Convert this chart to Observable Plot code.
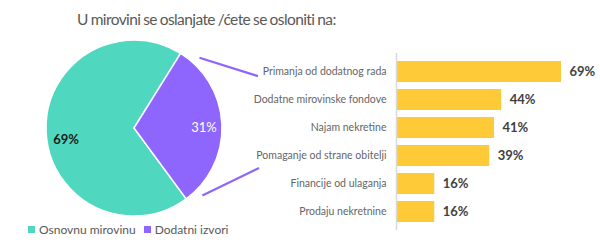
<!DOCTYPE html>
<html><head><meta charset="utf-8">
<script src="https://cdn.jsdelivr.net/npm/d3@7"></script>
<script src="https://cdn.jsdelivr.net/npm/@observablehq/plot@0.6"></script>
<style>
body{margin:0;background:#fff;font-family:Lato,sans-serif;}
#wrap{position:relative;width:600px;height:244px;overflow:hidden;}
#title{position:absolute;left:77px;top:10px;font-size:15.5px;letter-spacing:-0.6px;word-spacing:-0.5px;color:#595959;white-space:nowrap;}
#legend{position:absolute;left:28px;top:222px;font-size:12px;color:#595959;display:flex;gap:8px;white-space:nowrap;}
#legend span.sw{display:inline-block;width:7px;height:7px;margin-right:4px;vertical-align:1px;}
svg{position:absolute;left:0;top:0;}
</style></head>
<body>
<div id="wrap">
<div id="title">U mirovini se oslanjate /ćete se osloniti na:</div>
<div id="legend"></div>
</div>
<script>
const pieLabels = ["Osnovnu mirovinu", "Dodatni izvori"];
const pieValues = [69, 31];
const pieColors = ["#4fd8bf", "#8f66fd"];
const barCategories = ["Primanja od dodatnog rada", "Dodatne mirovinske fondove", "Najam nekretine", "Pomaganje od strane obitelji", "Financije od ulaganja", "Prodaju nekretnine"];
const barValues = [69, 44, 41, 39, 16, 16];
const barColor = "#ffca38";

const bars = barCategories.map((c, i) => ({cat: c, v: barValues[i]}));
const pieData = pieLabels.map((l, i) => ({label: l, v: pieValues[i], color: pieColors[i]}));

function pieMark(index, scales, values, dims) {
  const cx = 134, cy = 128, r = 88;
  const offset = (143.6 / 360) * 2 * Math.PI;
  const arcs = d3.pie().value(d => d.v).sort(null)
    .startAngle(offset).endAngle(offset + 2 * Math.PI)(pieData);
  const g = d3.create("svg:g").attr("transform", `translate(${cx},${cy})`);
  const arc = d3.arc().innerRadius(0).outerRadius(r);
  g.selectAll("path").data(arcs).join("path")
    .attr("d", arc).attr("fill", d => d.data.color)
    .attr("stroke", "#fff").attr("stroke-width", 1.5);
  const lab = [{dx: -68, dy: 11, fill: "#1a1a1a"}, {dx: 70, dy: -1, fill: "#fff"}];
  g.selectAll("text").data(arcs).join("text")
    .attr("x", (d, i) => lab[i].dx).attr("y", (d, i) => lab[i].dy)
    .attr("text-anchor", "middle").attr("dominant-baseline", "central")
    .attr("font-size", 13).attr("font-weight", (d, i) => i === 0 ? "bold" : "normal")
    .attr("fill", (d, i) => lab[i].fill)
    .text(d => d.data.v + "%");
  const purple = arcs[1];
  const a0 = purple.startAngle + 11 * Math.PI / 180 - 2 * Math.PI;
  const a1 = purple.endAngle - 9 * Math.PI / 180 - 2 * Math.PI;
  const rr = r + 8;
  const y = scales.y;
  const step = y(barCategories[1]) - y(barCategories[0]);
  const bw = step * 0.75;
  const yTop = y(barCategories[0]) + bw * 0.72;
  const yBot = y(barCategories[3]) + bw * 1.1;
  const lines = [
    [rr * Math.sin(a0), -rr * Math.cos(a0), 258 - cx, yTop - cy],
    [rr * Math.sin(a1), -rr * Math.cos(a1), 259 - cx, yBot - cy]
  ];
  g.selectAll("line").data(lines).join("line")
    .attr("x1", d => d[0]).attr("y1", d => d[1]).attr("x2", d => d[2]).attr("y2", d => d[3])
    .attr("stroke", pieColors[1]).attr("stroke-width", 2.2);
  return g.node();
}

const chart = Plot.plot({
  width: 600, height: 244,
  marginTop: 53, marginBottom: 14, marginLeft: 396, marginRight: 39,
  style: {fontFamily: "Lato, sans-serif", background: "transparent"},
  x: {domain: [0, d3.max(barValues)], axis: null},
  y: {domain: barCategories, padding: 0.25, label: null},
  marks: [
    Plot.barX(bars, {x: "v", y: "cat", fill: barColor}),
    Plot.ruleX([0], {stroke: "#d9d9d9", strokeWidth: 1.5}),
    Plot.axisY({tickSize: 0, tickPadding: 10, fontSize: 10.5, color: "#666666", label: null}),
    Plot.text(bars, {x: "v", y: "cat", text: d => d.v + "%", dx: 8, textAnchor: "start", fontWeight: "bold", fontSize: 13, fill: "#404040"}),
    pieMark
  ]
});
document.getElementById("wrap").prepend(chart);

const leg = document.getElementById("legend");
pieData.forEach(d => {
  const s = document.createElement("span");
  s.innerHTML = `<span class="sw" style="background:${d.color}"></span>${d.label}`;
  leg.appendChild(s);
});
</script>
</body></html>
